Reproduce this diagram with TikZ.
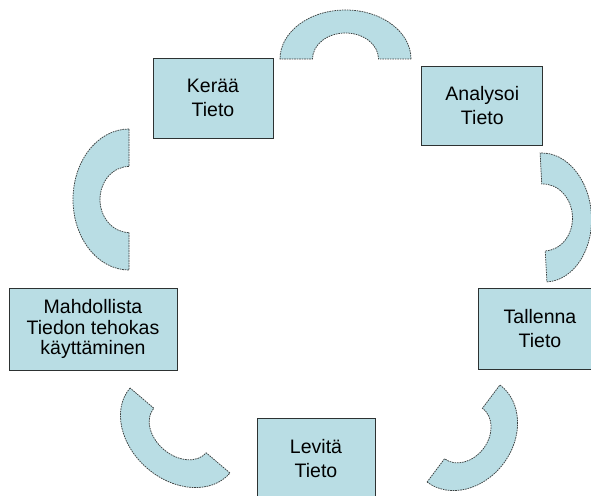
\documentclass[tikz,border=0pt]{standalone}
\usepackage{fontspec}
\setmainfont{Liberation Sans}
\definecolor{boxfill}{RGB}{185,221,228}
\definecolor{boxline}{RGB}{45,50,50}
\definecolor{arcline}{RGB}{60,65,65}
\tikzset{
  infobox/.style={draw=boxline, line width=0.9pt, fill=boxfill, align=center,
    inner sep=0pt, font=\fontsize{19.5}{24}\selectfont, text=black},
  blockarc/.style={fill=boxfill, draw=arcline, line width=0.75pt, dash pattern=on 1.6pt off 0.9pt}
}
\begin{document}
\begin{tikzpicture}[x=1pt,y=1pt]
\useasboundingbox (0,0) rectangle (591,495);
\fill[white] (0,0) rectangle (591,495);
\clip (0,0) rectangle (591,495);
% arcs
\begin{scope}[shift={(345.5,436)}]
  \path[blockarc] (65.5,0) arc[start angle=0,end angle=180,x radius=65.5,y radius=49]
    -- (-33,0) arc[start angle=180,end angle=0,x radius=33,y radius=26] -- cycle;
\end{scope}
\begin{scope}[shift={(543.5,277.5)},rotate=-87]
  \path[blockarc] (64.5,0) arc[start angle=0,end angle=180,x radius=64.5,y radius=48]
    -- (-33.5,0) arc[start angle=180,end angle=0,x radius=33.5,y radius=29] -- cycle;
\end{scope}
\begin{scope}[shift={(463.5,61.5)},rotate=-126.9]
  \path[blockarc] (60.7,0) arc[start angle=0,end angle=180,x radius=60.7,y radius=50]
    -- (-31.6,0) arc[start angle=180,end angle=0,x radius=31.6,y radius=25] -- cycle;
\end{scope}
\begin{scope}[shift={(180,64.5)},rotate=139.6]
  \path[blockarc] (65.6,0) arc[start angle=0,end angle=180,x radius=65.6,y radius=50]
    -- (-34.4,0) arc[start angle=180,end angle=0,x radius=34.4,y radius=25] -- cycle;
\end{scope}
\begin{scope}[shift={(129,295.5)},rotate=90]
  \path[blockarc] (70.5,0) arc[start angle=0,end angle=180,x radius=70.5,y radius=56]
    -- (-33,0) arc[start angle=180,end angle=0,x radius=33,y radius=29] -- cycle;
\end{scope}
% boxes
\node[infobox, minimum width=120pt, minimum height=80pt] (keraa) at (213,397) {Kerää\\Tieto};
\node[infobox, minimum width=121pt, minimum height=79pt] (analysoi) at (482.3,389.5) {Analysoi\\Tieto};
\node[infobox, minimum width=124pt, minimum height=81pt] (tallenna) at (540,166.5) {Tallenna\\Tieto};
\node[infobox, minimum width=118pt, minimum height=81pt] (levita) at (316,36.5) {Levitä\\Tieto};
\node[infobox, minimum width=168pt, minimum height=82pt, font=\fontsize{19.5}{20.5}\selectfont] (mahd) at (93,166) {Mahdollista\\Tiedon tehokas\\käyttäminen};
\end{tikzpicture}
\end{document}
